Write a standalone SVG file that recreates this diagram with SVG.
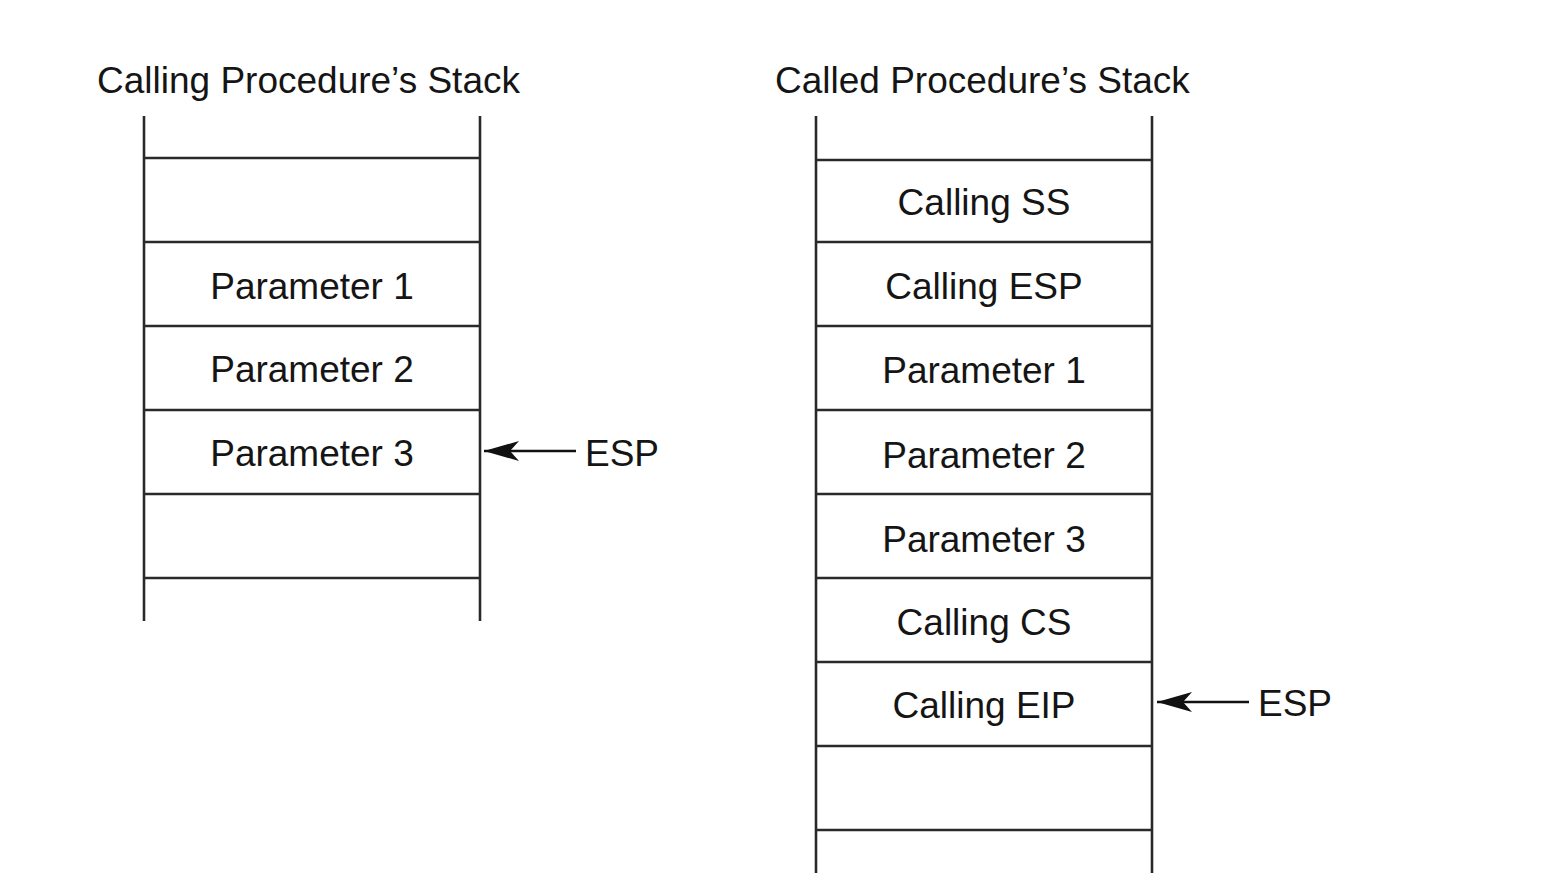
<svg xmlns="http://www.w3.org/2000/svg" width="1547" height="887" viewBox="0 0 1547 887">
<defs>
<marker id="ah" viewBox="0 0 35 20" refX="35" refY="10" markerWidth="35" markerHeight="20" markerUnits="userSpaceOnUse" orient="auto">
<path d="M35,10 L0,0 L9,10 L0,20 Z" fill="#111"/>
</marker>
</defs>
<style>
.ln{stroke:#2a2a2a;stroke-width:2.6;fill:none}
.t{font-family:"Liberation Sans",Arial,sans-serif;font-size:37px;fill:#151515}
.c{text-anchor:middle}
.ar{stroke:#111;stroke-width:2.6;fill:none}
</style>
<rect width="1547" height="887" fill="#ffffff"/>
<text class="t" x="97" y="93">Calling Procedure’s Stack</text>
<text class="t" x="775" y="93">Called Procedure’s Stack</text>
<g id="left-stack">
<line class="ln" x1="144" y1="116" x2="144" y2="621"/>
<line class="ln" x1="480" y1="116" x2="480" y2="621"/>
<line class="ln" x1="144" y1="158" x2="480" y2="158"/>
<line class="ln" x1="144" y1="242" x2="480" y2="242"/>
<line class="ln" x1="144" y1="326" x2="480" y2="326"/>
<line class="ln" x1="144" y1="410" x2="480" y2="410"/>
<line class="ln" x1="144" y1="494" x2="480" y2="494"/>
<line class="ln" x1="144" y1="578" x2="480" y2="578"/>
</g>
<g id="l-param1"><text class="t c" x="312" y="299">Parameter 1</text></g>
<g id="l-param2"><text class="t c" x="312" y="382">Parameter 2</text></g>
<g id="l-param3"><text class="t c" x="312" y="466">Parameter 3</text></g>
<g id="l-esp"><text class="t" x="585" y="466">ESP</text></g>
<g id="right-stack">
<line class="ln" x1="816" y1="116" x2="816" y2="873"/>
<line class="ln" x1="1152" y1="116" x2="1152" y2="873"/>
<line class="ln" x1="816" y1="160" x2="1152" y2="160"/>
<line class="ln" x1="816" y1="242" x2="1152" y2="242"/>
<line class="ln" x1="816" y1="326" x2="1152" y2="326"/>
<line class="ln" x1="816" y1="410" x2="1152" y2="410"/>
<line class="ln" x1="816" y1="494" x2="1152" y2="494"/>
<line class="ln" x1="816" y1="578" x2="1152" y2="578"/>
<line class="ln" x1="816" y1="662" x2="1152" y2="662"/>
<line class="ln" x1="816" y1="746" x2="1152" y2="746"/>
<line class="ln" x1="816" y1="830" x2="1152" y2="830"/>
</g>
<g id="r-ss"><text class="t c" x="984" y="215">Calling SS</text></g>
<g id="r-esp"><text class="t c" x="984" y="299">Calling ESP</text></g>
<g id="r-param1"><text class="t c" x="984" y="383">Parameter 1</text></g>
<g id="r-param2"><text class="t c" x="984" y="468">Parameter 2</text></g>
<g id="r-param3"><text class="t c" x="984" y="552">Parameter 3</text></g>
<g id="r-cs"><text class="t c" x="984" y="635">Calling CS</text></g>
<g id="r-eip"><text class="t c" x="984" y="718">Calling EIP</text></g>
<g id="r-esplabel"><text class="t" x="1258" y="716">ESP</text></g>
<g id="connectors">
<line class="ar" x1="576" y1="451" x2="484" y2="451" marker-end="url(#ah)"/>
<line class="ar" x1="1249" y1="702" x2="1157" y2="702" marker-end="url(#ah)"/>
</g>
</svg>
